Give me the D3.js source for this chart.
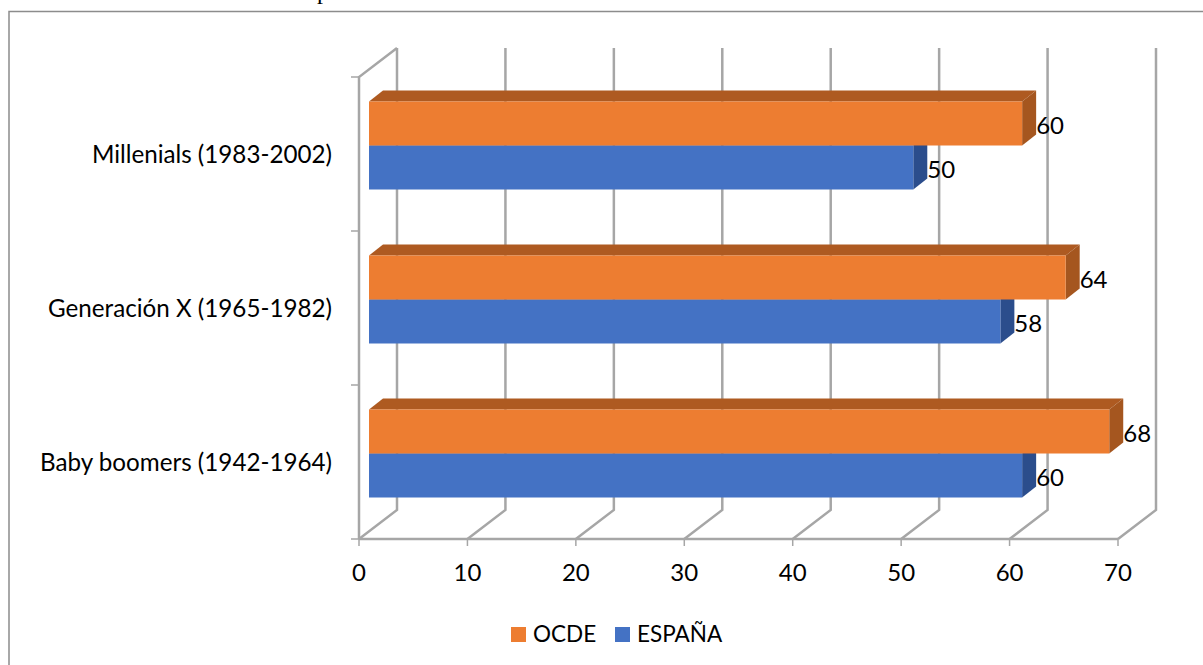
<!DOCTYPE html>
<html><head><meta charset="utf-8">
<script src="https://cdn.jsdelivr.net/npm/d3@7/dist/d3.min.js"></script>
<style>html,body{margin:0;padding:0;background:#fff}svg{display:block}text{font-family:Lato,"Open Sans",sans-serif;fill:#000}</style>
</head><body><svg id="c" width="1203" height="665"></svg>
<script>
const categories = ["Millenials (1983-2002)","Generación X (1965-1982)","Baby boomers (1942-1964)"];
const ocde = [60,64,68];
const espana = [50,58,60];
const xTicks = [0,10,20,30,40,50,60,70];
const seriesNames = ["OCDE","ESPAÑA"];

const svg = d3.select("#c");
const grid = "#a6a6a6";
const depth = {x:38, y:-29};
const barDepth = {x:14, y:-11};
const x = d3.scaleLinear().domain([0,70]).range([359,1118]);
const xBar = d3.scaleLinear().domain([0,70]).range([369,1131]);
const y = d3.scaleBand().domain(categories).range([77,539]);
const bw = 44;
const barTop = c => y(c) + y.bandwidth()/2 - bw - 8.5;

const frame = svg.append("g").attr("fill","none").attr("stroke","#8c8c8c").attr("stroke-width",1.5);
frame.append("path").attr("d",d3.line()([[9,665],[9,11.5],[1203,11.5]]));
svg.append("text").attr("x",317).attr("y",-1).attr("font-size",24).style("font-family","Liberation Serif").text("p");

const g = svg.append("g").attr("fill","none").attr("stroke",grid).attr("stroke-width",2.5);
xTicks.forEach(t=>{
  g.append("path").attr("d",d3.line()([[x(t),539],[x(t)+depth.x,539+depth.y],[x(t)+depth.x,77+depth.y]]));
  g.append("line").attr("x1",x(t)).attr("x2",x(t)).attr("y1",539).attr("y2",546).attr("stroke-width",1.5);
});
g.append("path").attr("d",d3.line()([[x(0),539],[x(0),77],[x(0)+depth.x,77+depth.y]]));
g.append("line").attr("x1",x(0)).attr("x2",x(70)).attr("y1",539).attr("y2",539);
[...categories.map(c=>y(c)),539].forEach(v=>g.append("line").attr("x1",351).attr("x2",x(0)).attr("y1",v).attr("y2",v).attr("stroke-width",1.5));

function bar3d(val,top,front,side,topC){
  const x0 = xBar(0), X1 = xBar(val);
  const p = d3.line();
  const b = svg.append("g");
  b.append("path").attr("fill",topC).attr("d",p([[x0,top],[x0+barDepth.x,top+barDepth.y],[X1+barDepth.x,top+barDepth.y],[X1,top]])+"Z");
  b.append("path").attr("fill",side).attr("d",p([[X1,top],[X1+barDepth.x,top+barDepth.y],[X1+barDepth.x,top+bw+barDepth.y],[X1,top+bw]])+"Z");
  b.append("rect").attr("x",x0).attr("y",top).attr("width",X1-x0).attr("height",bw).attr("fill",front);
  svg.append("text").attr("x",X1+barDepth.x).attr("y",top+bw/2+10).attr("font-size",24).text(val);
}
categories.forEach((c,i)=>{
  const t=barTop(c);
  bar3d(espana[i],t+bw,"#4472c4","#2b4d8c","#2f5597");
  bar3d(ocde[i],t,"#ed7d31","#a5561f","#ae5a21");
  svg.append("text").attr("x",332).attr("y",y(c)+y.bandwidth()/2+9).attr("text-anchor","end").attr("font-size",24.2).text(c);
});
xTicks.forEach(t=>svg.append("text").attr("x",x(t)).attr("y",581).attr("text-anchor","middle").attr("font-size",24).text(t));

const lg = [{n:seriesNames[0],c:"#ed7d31",sx:511,tx:533},{n:seriesNames[1],c:"#4472c4",sx:615,tx:637}];
lg.forEach(d=>{
  svg.append("rect").attr("x",d.sx).attr("y",627).attr("width",15).attr("height",15).attr("fill",d.c);
  svg.append("text").attr("x",d.tx).attr("y",642).attr("font-size",22.5).text(d.n);
});
</script></body></html>
